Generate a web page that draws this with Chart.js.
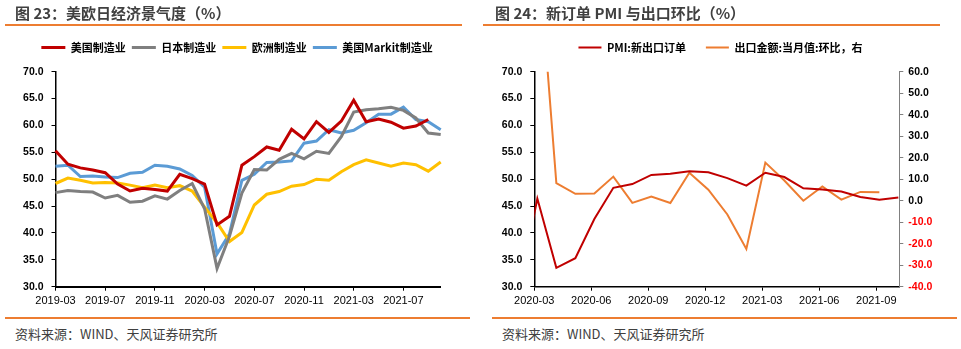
<!DOCTYPE html>
<html>
<head>
<meta charset="utf-8">
<script src="https://cdn.jsdelivr.net/npm/chart.js@4.4.1/dist/chart.umd.min.js"></script>
<style>
  body { margin: 0; width: 961px; height: 349px; background: #fff; position: relative; overflow: hidden;
         font-family: "Noto Sans CJK SC", sans-serif; }
  .title { position: absolute; top: 2px; font-size: 15px; font-weight: bold; color: #404040; white-space: nowrap; }
  .rule { position: absolute; height: 2px; background: #ED7D31; }
  .source { position: absolute; top: 324px; font-size: 13px; color: #404040; white-space: nowrap; }
  .box { position: absolute; top: 0; height: 316px; }
</style>
</head>
<body>
<div class="box" style="left:0; width:480px"><canvas id="pmiChart"></canvas></div>
<div class="box" style="left:480px; width:481px"><canvas id="exportChart"></canvas></div>
<div class="title" style="left:15px">图 23：美欧日经济景气度（%）</div>
<div class="rule" style="left:5px; width:457px; top:24px"></div>
<div class="title" style="left:495px">图 24：新订单 PMI 与出口环比（%）</div>
<div class="rule" style="left:483px; width:457px; top:24px"></div>
<div class="rule" style="left:5px; width:465px; top:317px"></div>
<div class="rule" style="left:492px; width:465px; top:317px"></div>
<div class="source" style="left:15px">资料来源：WIND、天风证券研究所</div>
<div class="source" style="left:502px">资料来源：WIND、天风证券研究所</div>
<script>
// 图23 制造业PMI
const pmiMonths = [
  '2019-03', '2019-04', '2019-05', '2019-06', '2019-07', '2019-08', '2019-09', '2019-10', '2019-11', '2019-12',
  '2020-01', '2020-02', '2020-03', '2020-04', '2020-05', '2020-06', '2020-07', '2020-08', '2020-09', '2020-10',
  '2020-11', '2020-12', '2021-01', '2021-02', '2021-03', '2021-04', '2021-05', '2021-06', '2021-07', '2021-08',
  '2021-09', '2021-10'
];
const usMfg = [55.3, 52.8, 52.1, 51.7, 51.2, 49.1, 47.8, 48.3, 48.1, 47.8,
  50.9, 50.1, 49.1, 41.5, 43.1, 52.6, 54.2, 56.0, 55.4, 59.3, 57.5, 60.7,
  58.7, 60.8, 64.7, 60.7, 61.2, 60.6, 59.5, 59.9, 61.1, null];
const japanMfg = [47.5, 47.9, 47.7, 47.6, 46.5, 47.0, 45.7, 45.9, 46.9, 46.3,
  47.9, 49.2, 44.5, 33.4, 39.4, 47.4, 51.8, 51.7, 53.7, 54.8, 53.8, 55.2,
  54.8, 57.9, 62.5, 62.9, 63.1, 63.4, 62.8, 61.4, 58.6, 58.3];
const europeMfg = [49.2, 50.2, 49.8, 49.3, 49.4, 49.3, 48.9, 48.4, 48.9, 48.4,
  48.8, 47.8, 44.8, 41.9, 38.4, 40.1, 45.2, 47.2, 47.7, 48.7, 49.0, 50.0,
  49.8, 51.4, 52.7, 53.6, 53.0, 52.4, 53.0, 52.7, 51.5, 53.2];
const usMarkitMfg = [52.4, 52.6, 50.5, 50.6, 50.4, 50.3, 51.1, 51.3, 52.6, 52.4,
  51.9, 50.7, 48.5, 36.1, 39.8, 49.8, 50.9, 53.1, 53.2, 53.4, 56.7, 57.1,
  59.2, 58.6, 59.1, 60.5, 62.1, 62.1, 63.4, 61.1, 60.7, 59.2];

// 图24 新出口订单与出口环比
const exportMonths = [
  '2020-02', '2020-03', '2020-04', '2020-05', '2020-06', '2020-07', '2020-08', '2020-09', '2020-10', '2020-11',
  '2020-12', '2021-01', '2021-02', '2021-03', '2021-04', '2021-05', '2021-06', '2021-07', '2021-08', '2021-09',
  '2021-10'
];
const newExportOrders = [28.7, 46.4, 33.5, 35.3, 42.6, 48.4, 49.1, 50.8, 51.0, 51.5,
  51.3, 50.2, 48.8, 51.2, 50.4, 48.3, 48.1, 47.7, 46.7, 46.2, 46.6];
const exportMoM = [null, 122, 8.2, 3.2, 3.3, 11.2, -1.0, 1.9, -1.1, 13.0,
  5.1, -6.4, -22.4, 17.7, 9.4, 0.0, 6.6, 0.5, 4.1, 3.9, null];
const exportTicks = ['2020-03', '2020-06', '2020-09', '2020-12', '2021-03', '2021-06', '2021-09'];

Chart.defaults.font.family = "'Noto Sans CJK SC', sans-serif";
Chart.defaults.color = '#000';

const valueFont = { family: "'Liberation Sans', Arial, sans-serif", size: 10.5, weight: 'bold' };
const dateFont = { family: "'Liberation Sans Narrow', 'Arial Narrow', sans-serif", size: 11 };

// legend: extra room below it, optional fixed horizontal span
const legendBox = {
  id: 'legendBox',
  beforeInit(chart) {
    const fit = chart.legend.fit;
    chart.legend.fit = function () {
      fit.call(this);
      this.height += 8.7;
    };
  },
  afterLayout(chart, args, opts) {
    if (opts.left !== undefined) chart.legend.left = opts.left;
    if (opts.right !== undefined) chart.legend.right = opts.right;
  }
};

const lineSet = (label, data, color, width) => ({
  label, data,
  borderColor: color, backgroundColor: color,
  borderWidth: width, pointRadius: 0, tension: 0, fill: false
});

new Chart(document.getElementById('pmiChart'), {
  type: 'line',
  data: {
    labels: pmiMonths,
    datasets: [
      lineSet('美国制造业', usMfg, '#C00000', 3),
      lineSet('日本制造业', japanMfg, '#7F7F7F', 3),
      lineSet('欧洲制造业', europeMfg, '#FFC000', 3),
      lineSet('美国Markit制造业', usMarkitMfg, '#5B9BD5', 3)
    ]
  },
  options: {
    responsive: true,
    maintainAspectRatio: false,
    animation: false,
    layout: { padding: { left: 0, right: 39.3, top: 36, bottom: 0 } },
    plugins: {
      legend: {
        labels: {
          usePointStyle: true, pointStyle: 'line', pointStyleWidth: 24, boxHeight: 3,
          padding: 6, color: '#000',
          font: { size: 11, weight: 'bold' }
        }
      },
      legendBox: { left: 33, right: 441 },
      tooltip: { enabled: false }
    },
    scales: {
      x: {
        type: 'category',
        offset: false,
        border: { color: '#000', width: 2 },
        grid: {
          drawOnChartArea: false, tickLength: 4,
          tickColor: ctx => (ctx.index % 4 === 0 ? '#000' : 'rgba(0,0,0,0)')
        },
        ticks: {
          autoSkip: false, maxRotation: 0, padding: 4, font: dateFont, color: '#000',
          callback: (v, i) => (i % 4 === 0 ? pmiMonths[i] : '')
        },
        afterFit: s => { s.height = 29.3; }
      },
      y: {
        min: 30, max: 70,
        border: { color: '#000', width: 1.5 },
        grid: { drawOnChartArea: false, tickLength: 4, tickColor: '#000' },
        ticks: { stepSize: 5, padding: 8, font: valueFont, color: '#000', callback: v => v.toFixed(1) },
        afterFit: s => { s.width = 55.5; }
      }
    }
  },
  plugins: [legendBox]
});

const shift = 0.16;
const first = exportMonths.indexOf('2020-03');

new Chart(document.getElementById('exportChart'), {
  type: 'line',
  data: {
    datasets: [
      Object.assign(lineSet('PMI:新出口订单', newExportOrders.map((v, i) => ({ x: i, y: v })), '#C00000', 2), { yAxisID: 'y' }),
      Object.assign(lineSet('出口金额:当月值:环比，右', exportMoM.map((v, i) => ({ x: i, y: v })), '#ED7D31', 2), { yAxisID: 'y1' })
    ]
  },
  options: {
    responsive: true,
    maintainAspectRatio: false,
    animation: false,
    layout: { padding: { left: 20, right: 20, top: 22, bottom: 0 } },
    plugins: {
      legend: {
        labels: {
          usePointStyle: true, pointStyle: 'line', pointStyleWidth: 23, boxHeight: 2,
          padding: 20, color: '#000',
          font: { size: 11, weight: 'bold' }
        }
      },
      tooltip: { enabled: false }
    },
    scales: {
      x: {
        type: 'linear',
        min: first - shift,
        max: exportMonths.length - 1 + 0.05,
        border: { color: '#000', width: 1.5 },
        grid: { drawOnChartArea: false, tickLength: 4, tickColor: '#000' },
        afterBuildTicks: s => {
          s.ticks = exportTicks.map(t => ({ value: exportMonths.indexOf(t) - shift }));
        },
        ticks: {
          autoSkip: false, maxRotation: 0, padding: 4, font: dateFont, color: '#000',
          callback: (v, i) => exportTicks[i]
        },
        afterFit: s => { s.height = 29.3; }
      },
      y: {
        position: 'left',
        min: 30, max: 70,
        border: { color: '#000', width: 1.5 },
        grid: { drawOnChartArea: false, tickLength: 4, tickColor: '#000' },
        ticks: { stepSize: 5, padding: 8, font: valueFont, color: '#000', callback: v => v.toFixed(1) },
        afterFit: s => { s.width = 34.3; }
      },
      y1: {
        position: 'right',
        min: -40, max: 60,
        border: { color: '#808080', width: 1 },
        grid: { drawOnChartArea: false, tickLength: 4, tickColor: '#808080' },
        ticks: {
          stepSize: 10, padding: 5, font: valueFont,
          color: ctx => (ctx.tick && ctx.tick.value < 0 ? '#FF0000' : '#000'),
          callback: v => v.toFixed(1)
        },
        afterFit: s => { s.width = 41.7; }
      }
    }
  },
  plugins: [legendBox]
});
</script>
</body>
</html>
